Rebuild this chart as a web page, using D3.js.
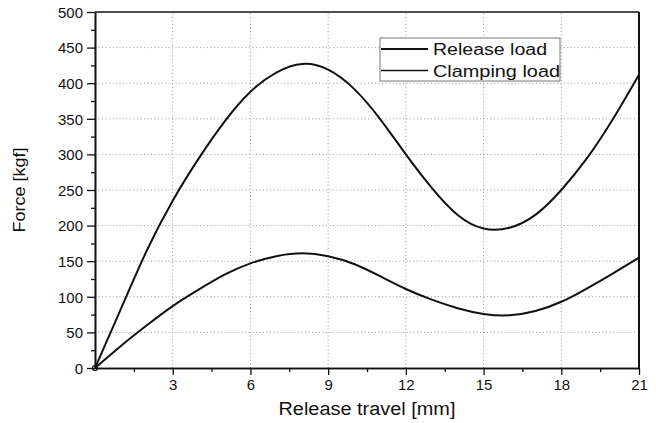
<!DOCTYPE html>
<html><head><meta charset="utf-8">
<script src="https://cdn.jsdelivr.net/npm/d3@7"></script>
<style>
html,body{margin:0;padding:0;background:#fff;}
text{font-family:"Liberation Sans",Arial,sans-serif;fill:#111;}
</style></head>
<body>
<svg id="c" width="656" height="423"></svg>
<script>
const travel = [0,1,2,3,4,5,6,7,8,9,10,11,12,13,14,15,16,17,18,19,20,21];
const releaseLoad = [0,31,60,87,110,131,147,157,161,157,146,129,111,96,84,76,74,80,93,112,133,155];
const clampingLoad = [0,83,165,235,294,346,388,415,427,419,392,350,300,253,215,196,197,215,250,295,350,412];
const xTicks = [3,6,9,12,15,18,21];
const yTicks = [0,50,100,150,200,250,300,350,400,450,500];
const seriesNames = ["Release load","Clamping load"];

const svg = d3.select("#c");
const L=95, R=639, T=12, B=368;
const x = d3.scaleLinear().domain([0,21]).range([L,R]);
const y = d3.scaleLinear().domain([0,500]).range([B,T]);

// grid
const g = svg.append("g");
g.selectAll(".gx").data(xTicks.filter(d=>d<21)).enter().append("line")
  .attr("x1",d=>x(d)).attr("x2",d=>x(d)).attr("y1",B).attr("y2",T)
  .attr("stroke","#999").attr("stroke-width",1).attr("stroke-dasharray","1,2.5");
g.selectAll(".gy").data(yTicks.filter(d=>d>0&&d<500)).enter().append("line")
  .attr("y1",d=>y(d)).attr("y2",d=>y(d)).attr("x1",L).attr("x2",R)
  .attr("stroke","#999").attr("stroke-width",1).attr("stroke-dasharray","1,2.5");

// curves
const line = d3.line().x((d,i)=>x(travel[i])).y(d=>y(d)).curve(d3.curveNatural);
[releaseLoad, clampingLoad].forEach(s=>{
  svg.append("path").attr("d",line(s)).attr("fill","none").attr("stroke","#111").attr("stroke-width",2);
});
svg.append("circle").attr("cx",x(travel[0])).attr("cy",y(releaseLoad[0])).attr("r",2.5)
  .attr("fill","none").attr("stroke","#111").attr("stroke-width",1.2);

// axes
const xAxis = d3.axisBottom(x).tickValues(xTicks).tickSize(7).tickPadding(4).tickSizeOuter(0);
const xMinor = d3.axisBottom(x).tickValues(d3.range(1.5,21,3)).tickSize(4).tickFormat("").tickSizeOuter(0);
const yAxis = d3.axisLeft(y).tickValues(yTicks).tickSize(8).tickPadding(4).tickSizeOuter(0);
const yMinor = d3.axisLeft(y).tickValues(d3.range(25,500,50)).tickSize(4).tickFormat("").tickSizeOuter(0);

function style(sel){
  sel.selectAll("path").attr("stroke","#111").attr("stroke-width",1.6);
  sel.selectAll("line").attr("stroke","#111").attr("stroke-width",1.3);
  sel.selectAll("text").attr("font-size",15).attr("fill","#111").attr("font-family","Liberation Sans, Arial, sans-serif");
}
const gx = svg.append("g").attr("transform",`translate(0,${B})`).call(xAxis); style(gx);
const gxm = svg.append("g").attr("transform",`translate(0,${B})`).call(xMinor); style(gxm);
const gy = svg.append("g").attr("transform",`translate(${L},0)`).call(yAxis); style(gy);
const gym = svg.append("g").attr("transform",`translate(${L},0)`).call(yMinor); style(gym);
gx.selectAll("text").attr("dy","0.75em");
gy.selectAll("text").attr("dy","0.35em");

// frame top/right
svg.append("line").attr("x1",L).attr("x2",R).attr("y1",T).attr("y2",T).attr("stroke","#111").attr("stroke-width",1.6);
svg.append("line").attr("x1",R).attr("x2",R).attr("y1",T).attr("y2",B).attr("stroke","#111").attr("stroke-width",2);

// axis titles
svg.append("text").attr("x",(L+R)/2).attr("y",415).attr("text-anchor","middle")
  .attr("font-size",18).attr("textLength",177).attr("lengthAdjust","spacingAndGlyphs").text("Release travel [mm]");
svg.append("text").attr("transform",`translate(25,${(T+B)/2}) rotate(-90)`).attr("text-anchor","middle")
  .attr("font-size",17).attr("textLength",85).attr("lengthAdjust","spacingAndGlyphs").text("Force [kgf]");

// legend
const lg = svg.append("g");
lg.append("rect").attr("x",380).attr("y",38).attr("width",180).attr("height",43)
  .attr("fill","#fff").attr("stroke","#777").attr("stroke-width",1);
seriesNames.forEach((n,i)=>{
  const yy = 49 + i*21.5;
  lg.append("line").attr("x1",381).attr("x2",428).attr("y1",yy).attr("y2",yy)
    .attr("stroke","#111").attr("stroke-width",i===0?2:1.6);
  lg.append("text").attr("x",433).attr("y",yy+6).attr("font-size",16)
    .attr("textLength",i===0?114:127).attr("lengthAdjust","spacingAndGlyphs").text(n);
});
</script>
</body></html>
